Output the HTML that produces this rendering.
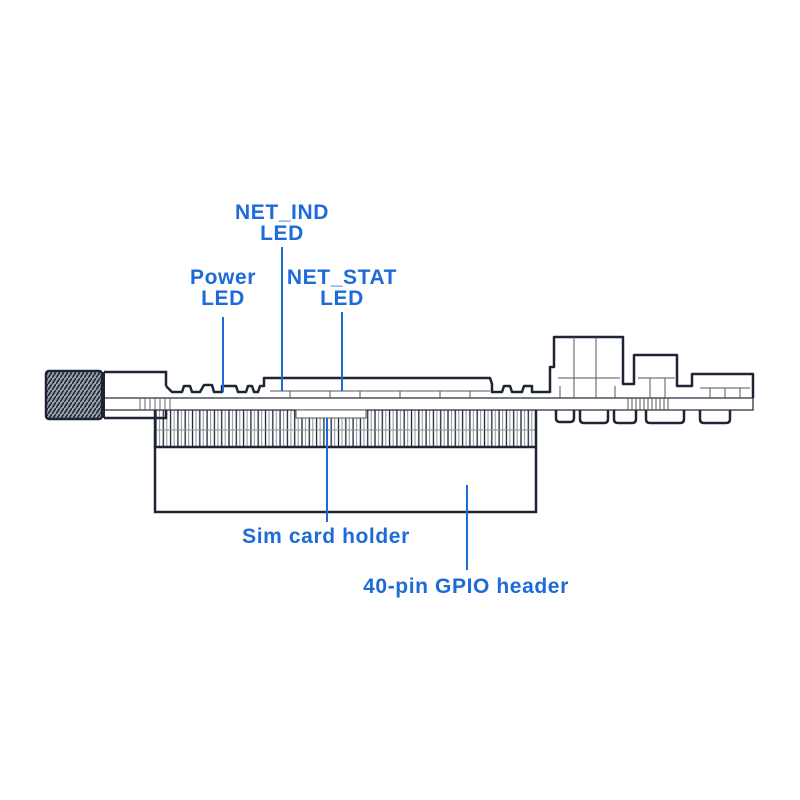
<!DOCTYPE html>
<html><head><meta charset="utf-8"><style>
html,body{margin:0;padding:0;background:#fff}
svg{display:block}
text{font-family:"Liberation Sans",sans-serif;font-weight:bold;font-size:21px;letter-spacing:0.6px;fill:#1c6bd8;text-anchor:middle}
</style></head><body>
<svg width="800" height="800" viewBox="0 0 800 800" xmlns="http://www.w3.org/2000/svg">
<defs>
<pattern id="pins" x="155" y="0" width="7.3" height="40" patternUnits="userSpaceOnUse">
<rect width="7.3" height="40" fill="#fff"/>
<line x1="1" y1="0" x2="1" y2="40" stroke="#1d2535" stroke-width="1.3"/>
<line x1="4.5" y1="0" x2="4.5" y2="40" stroke="#8a909a" stroke-width="1"/>
</pattern>
<pattern id="thread" x="0" y="0" width="4" height="6" patternUnits="userSpaceOnUse">
<rect width="4" height="6" fill="#9a9ea6"/>
<line x1="0" y1="6" x2="4" y2="0" stroke="#1d2535" stroke-width="1.5"/>
</pattern>
</defs>
<g stroke="#1d2535" fill="none">
<rect x="155" y="410" width="381" height="37" fill="url(#pins)" stroke="none"/>
<line x1="155" y1="430" x2="536" y2="430" stroke="#8a909a" stroke-width="1"/>
<rect x="155" y="447" width="381" height="65" fill="#fff" stroke-width="2.5"/>
<line x1="155" y1="410" x2="155" y2="447" stroke-width="2.5"/>
<line x1="536" y1="410" x2="536" y2="447" stroke-width="2.5"/>
<rect x="100" y="398" width="653" height="12" fill="#fff" stroke-width="1.2"/>
<rect x="46" y="371" width="56" height="48" rx="3" fill="url(#thread)" stroke-width="2.5"/>
<path d="M104 372 H166 V386 M104 418 H166 V410" stroke-width="2.5"/>
<line x1="104" y1="372" x2="104" y2="418" stroke-width="2"/>
<line x1="104" y1="398" x2="170" y2="398" stroke-width="1"/>
<g stroke-width="1" stroke="#666">
<line x1="140" y1="398" x2="140" y2="410"/><line x1="145" y1="398" x2="145" y2="410"/><line x1="150" y1="398" x2="150" y2="410"/><line x1="155" y1="398" x2="155" y2="410"/><line x1="160" y1="398" x2="160" y2="410"/><line x1="165" y1="398" x2="165" y2="410"/><line x1="170" y1="398" x2="170" y2="410"/>
</g>
<path d="M166 386 L172 392 H182 L184 386 H190 L192 392 H200 L204 385 H212 L214 392 H222 V386 H236 L238 392 H246 L248 386 H252 L254 392 H258 L260 386 H264 V378 H490 L492 384 V392 H502 L504 386 H510 L512 392 H522 L524 386 H532 V392 H550 V367 H554 V337 H623 V384 H634 V355 H677 V386 H692 V374 H753 V398" stroke-width="2.5" stroke-linejoin="round"/>
<g stroke-width="1" stroke="#555">
<path d="M270 391 H490 M290 391 V398 M330 391 V398 M360 391 V398 M400 391 V398 M440 391 V398 M470 391 V398"/>
<path d="M558 378 H620 M574 337 V398 M596 337 V398 M560 386 V398 M615 386 V398"/>
<path d="M638 378 H675 M650 378 V398 M665 378 V398"/>
<path d="M700 388 H750 M710 388 V398 M725 388 V398 M740 388 V398"/>
<line x1="628" y1="398" x2="628" y2="410"/><line x1="632" y1="398" x2="632" y2="410"/><line x1="636" y1="398" x2="636" y2="410"/><line x1="640" y1="398" x2="640" y2="410"/><line x1="644" y1="398" x2="644" y2="410"/><line x1="648" y1="398" x2="648" y2="410"/><line x1="652" y1="398" x2="652" y2="410"/><line x1="656" y1="398" x2="656" y2="410"/><line x1="660" y1="398" x2="660" y2="410"/><line x1="664" y1="398" x2="664" y2="410"/><line x1="668" y1="398" x2="668" y2="410"/>
<rect x="296" y="410" width="70" height="8" fill="#fff"/>
</g>
<path d="M556 410 V418 Q556 422 560 422 H570 Q574 422 574 418 V410 M580 410 V419 Q580 423 584 423 H604 Q608 423 608 419 V410 M614 410 V419 Q614 423 618 423 H632 Q636 423 636 419 V410 M646 410 V419 Q646 423 650 423 H680 Q684 423 684 419 V410 M700 410 V419 Q700 423 704 423 H726 Q730 423 730 419 V410" stroke-width="2.5"/>
</g>
<g stroke="#1c6bd8" stroke-width="2">
<line x1="223" y1="317" x2="223" y2="392"/>
<line x1="282" y1="247" x2="282" y2="391"/>
<line x1="342" y1="312" x2="342" y2="391"/>
<line x1="327" y1="418" x2="327" y2="522"/>
<line x1="467" y1="485" x2="467" y2="570"/>
</g>
<text x="282" y="219">NET_IND</text>
<text x="282" y="240">LED</text>
<text x="223" y="284">Power</text>
<text x="223" y="305">LED</text>
<text x="342" y="284">NET_STAT</text>
<text x="342" y="305">LED</text>
<text x="326" y="543">Sim card holder</text>
<text x="466" y="593">40-pin GPIO header</text>
</svg>
</body></html>
